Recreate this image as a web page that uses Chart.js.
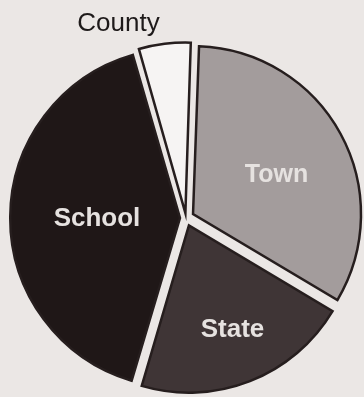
<!DOCTYPE html>
<html>
<head>
<meta charset="utf-8">
<script src="https://cdn.jsdelivr.net/npm/chart.js@4"></script>
<style>
  html, body { margin: 0; padding: 0; background: #ebe7e5; }
  #wrap { width: 364px; height: 397px; position: relative; }
</style>
</head>
<body>
<div id="wrap"><canvas id="c" width="364" height="397"></canvas></div>
<script>
const categories = ["Town", "State", "School", "County"];
const shares = [33, 21, 41, 5];
const sliceColors = ["#a39c9c", "#3f3536", "#1f1717", "#f6f4f3"];
const labelColors = ["#e6e2e0", "#e6e2e0", "#e6e2e0", "#1e1a1a"];

const labelPlugin = {
  id: 'sliceLabels',
  afterDatasetsDraw(chart, args, opts) {
    const ctx = chart.ctx;
    const meta = chart.getDatasetMeta(0);
    meta.data.forEach((arc, i) => {
      const p = opts.place[i];
      const off = (arc.options.offset || 0) / 4;
      const mid = (arc.startAngle + arc.endAngle) / 2;
      const cx = arc.x + Math.cos(mid) * off;
      const cy = arc.y + Math.sin(mid) * off;
      const a = mid + p.da * Math.PI / 180;
      const r = arc.outerRadius * p.r;
      const x = cx + Math.cos(a) * r;
      const y = cy + Math.sin(a) * r;
      ctx.save();
      ctx.font = (p.bold ? 'bold ' : '') + p.size + 'px "Liberation Sans", Arial, sans-serif';
      ctx.fillStyle = labelColors[i];
      ctx.textAlign = 'center';
      ctx.textBaseline = 'alphabetic';
      ctx.fillText(categories[i], x, y + p.size * 0.36);
      ctx.restore();
    });
  }
};

new Chart(document.getElementById('c'), {
  type: 'pie',
  data: {
    labels: categories,
    datasets: [{
      data: shares,
      backgroundColor: sliceColors,
      borderColor: "#261e1e",
      borderWidth: 2.5,
      borderJoinStyle: 'miter',
      offset: [32, 32, 24, 20],
      hoverOffset: 0,
      clip: false
    }]
  },
  options: {
    responsive: false,
    animation: false,
    events: [],
    rotation: 2,
    radius: 167,
    layout: { padding: { left: 8, right: 0, top: 39, bottom: 0 } },
    plugins: {
      legend: { display: false },
      tooltip: { enabled: false },
      sliceLabels: {
        place: [
          { r: 0.559, da: 2.1, size: 25, bold: true },
          { r: 0.668, da: -1.6, size: 26, bold: true },
          { r: 0.497, da: 0.5, size: 26, bold: true },
          { r: 1.212, da: -12.3, size: 26, bold: false }
        ]
      }
    }
  },
  plugins: [labelPlugin]
});
</script>
</body>
</html>
